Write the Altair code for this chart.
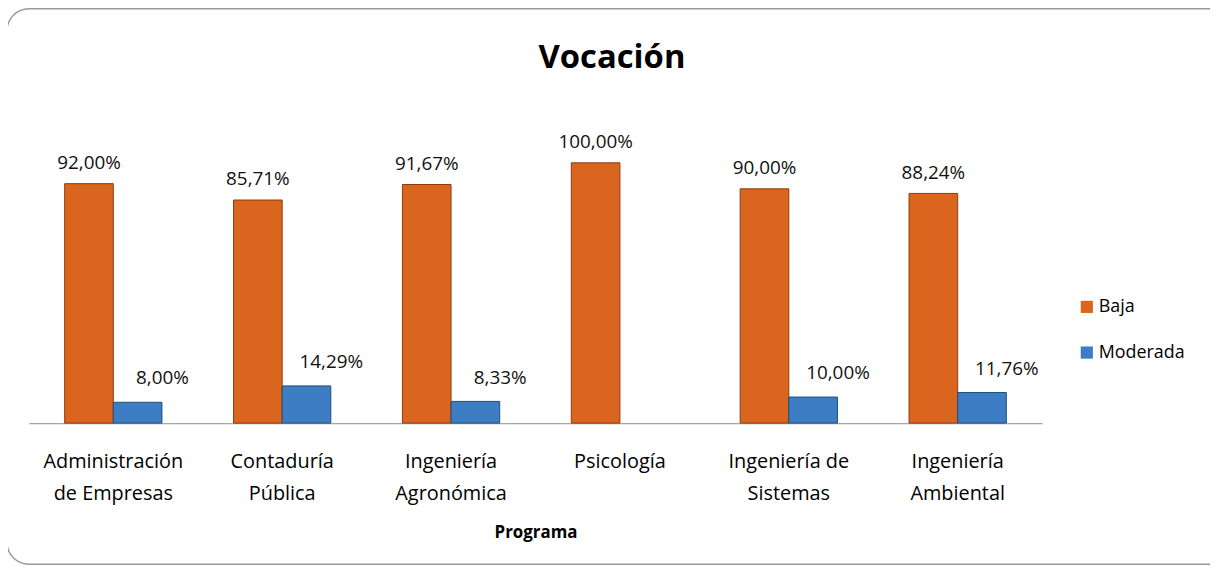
import altair as alt
import pandas as pd

programas = ["Administración\nde Empresas", "Contaduría\nPública", "Ingeniería\nAgronómica",
             "Psicología", "Ingeniería de\nSistemas", "Ingeniería\nAmbiental"]
baja = [92.00, 85.71, 91.67, 100.00, 90.00, 88.24]
moderada = [8.00, 14.29, 8.33, None, 10.00, 11.76]
series = ["Baja", "Moderada"]
colors = ["#D9651E", "#3C7DC4"]
strokes = ["#8A3C0C", "#1F4E79"]
titulo = "Vocación"

rows = []
for p, b, m in zip(programas, baja, moderada):
    for s, v in zip(series, [b, m]):
        if v is None:
            continue
        rows.append({"Programa": p, "Serie": s, "Valor": v,
                     "Etiqueta": f"{v:.2f}".replace(".", ",") + "%"})
df = pd.DataFrame(rows)

FONT = "Open Sans, sans-serif"

x_enc = alt.X("Programa:N", sort=programas,
              scale=alt.Scale(paddingInner=0.424, paddingOuter=0.212),
              axis=alt.Axis(title="Programa", labelAngle=0, ticks=False,
                            labelExpr="split(datum.label, '\\n')",
                            labelFontSize=20, labelColor="#000", labelFont=FONT,
                            labelLineHeight=32, labelPadding=29,
                            titleFont=FONT, titleFontSize=17, titleFontWeight="bold",
                            titleColor="#000", titlePadding=21,
                            domainColor="#A6A6A6", domainWidth=1.2))
xo_enc = alt.XOffset("Serie:N", scale=alt.Scale(domain=series))
y_enc = alt.Y("Valor:Q", scale=alt.Scale(domain=[0, 100]), axis=None)

base = alt.Chart(df).encode(x=x_enc, xOffset=xo_enc, y=y_enc)

bars = base.mark_bar(strokeWidth=1).encode(
    color=alt.Color("Serie:N", scale=alt.Scale(domain=series, range=colors),
                    legend=alt.Legend(title=None, orient="none", legendX=1056, legendY=136,
                                      symbolType="square", symbolSize=150,
                                      symbolStrokeWidth=0,
                                      labelFont=FONT, labelFontSize=18, labelColor="#000",
                                      rowPadding=28, labelOffset=3)),
    stroke=alt.Stroke("Serie:N", scale=alt.Scale(domain=series, range=strokes), legend=None),
)

txt_baja = base.transform_filter(alt.datum.Serie == "Baja").mark_text(
    baseline="bottom", dy=-11, fontSize=19, font=FONT, color="#111").encode(text="Etiqueta:N")
txt_mod = base.transform_filter(alt.datum.Serie == "Moderada").mark_text(
    baseline="bottom", dy=-14, dx=25, fontSize=19, font=FONT, color="#111").encode(text="Etiqueta:N")

frame = alt.Chart(pd.DataFrame({"f": [0]})).mark_rect(
    fill="transparent", stroke="#9A9A9A", strokeWidth=1.5, cornerRadius=22).encode(
    x=alt.value(-22), x2=alt.value(1230), y=alt.value(-155), y2=alt.value(404))

title_mark = alt.Chart(pd.DataFrame({"t": [titulo]})).mark_text(
    fontSize=33, font=FONT, fontWeight="bold", color="#000", baseline="middle", align="center").encode(
    text="t:N", x=alt.value(587), y=alt.value(-105))

chart = alt.layer(frame, bars, txt_baja, txt_mod, title_mark).properties(
    width=1020, height=262,
    autosize=alt.AutoSizeParams(type="none"),
    padding={"left": 21, "top": 154, "right": 169, "bottom": 143},
).configure_view(stroke=None)

chart.save("out.html", embed_options={"renderer": "svg", "actions": False})
